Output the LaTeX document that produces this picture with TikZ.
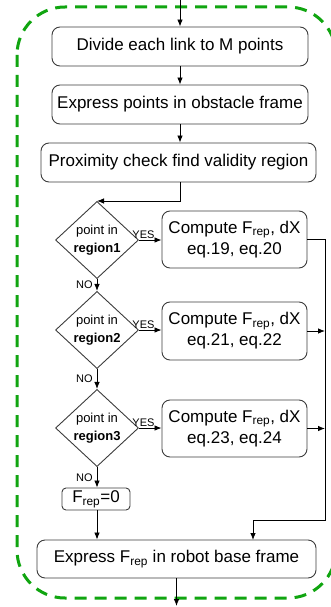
\documentclass[tikz,border=0pt]{standalone}
\usepackage{fontspec}
\setmainfont{Liberation Sans}
\usetikzlibrary{shapes.geometric, arrows.meta}
\definecolor{loopgreen}{RGB}{16,165,16}
\definecolor{boxline}{RGB}{60,60,60}
\tikzset{
  step box/.style={draw=boxline, line width=0.9pt, rounded corners=8pt, inner sep=1pt, align=center, font=\fontsize{17}{21}\selectfont},
  check/.style={draw=boxline, line width=0.9pt, shape=diamond, inner sep=0pt, minimum width=83pt, minimum height=76pt, align=center, font=\fontsize{13}{18}\selectfont},
  tag/.style={font=\fontsize{11}{12}\selectfont, inner sep=1pt},
  flow/.style={->, >={Latex[length=7pt, width=5.5pt]}, line width=0.8pt, black}
}
\begin{document}
\begin{tikzpicture}
  \begin{scope}[x=1pt, y=-1pt]
    \useasboundingbox (0,0) rectangle (331,607);
    \draw [loopgreen, line width=3pt, dash pattern=on 12pt off 8pt, rounded corners=48pt] (17,7) rectangle (336,598);
    \coordinate (In) at (180,0);
    \coordinate (Out) at (176.5,606);
    \node [step box, minimum width=256pt, minimum height=39pt] (S1) at (180,46.5) {Divide each link to M points};
    \node [step box, minimum width=256pt, minimum height=39pt] (S2) at (180,104.5) {Express points in obstacle frame};
    \node [step box, minimum width=275pt, minimum height=39pt] (S3) at (178.5,162.5) {Proximity check find validity region};
    \node [check] (D1) at (97,240) {point in\\\textbf{region1}};
    \node [check] (D2) at (97,330) {point in\\\textbf{region2}};
    \node [check] (D3) at (97,428) {point in\\\textbf{region3}};
    \node [step box, minimum width=145pt, minimum height=57pt] (C1) at (234.5,239.5) {Compute F\textsubscript{rep}, dX\\eq.19, eq.20};
    \node [step box, minimum width=145pt, minimum height=58pt] (C2) at (234.5,331) {Compute F\textsubscript{rep}, dX\\eq.21, eq.22};
    \node [step box, minimum width=145pt, minimum height=57pt] (C3) at (234.5,428.5) {Compute F\textsubscript{rep}, dX\\eq.23, eq.24};
    \node [step box, rounded corners=4pt, minimum width=68pt, minimum height=22pt] (F0) at (96,499) {F\textsubscript{rep}=0};
    \node [step box, minimum width=279pt, minimum height=38pt] (S4) at (176.5,559) {Express F\textsubscript{rep} in robot base frame};
    \coordinate (R) at (325,520);
    \coordinate (B) at (253,540);
    \draw [flow] (In) -- (S1);
    \draw [flow] (S1) -- (S2);
    \draw [flow] (S2) -- (S3.north -| S2);
    \draw [flow] (S3.south -| S2) |- (D1.north);
    \draw [flow] (D1.east) -- node [tag, above, pos=0.2] {YES} (C1.west |- D1.east);
    \draw [flow] (D2.east) -- node [tag, above, pos=0.2] {YES} (C2.west |- D2.east);
    \draw [flow] (D3.east) -- node [tag, above, pos=0.2] {YES} (C3.west |- D3.east);
    \draw [flow] (D1.south) -- node [tag, left, xshift=-3pt] {NO} (D2.north);
    \draw [flow] (D2.south) -- node [tag, left, xshift=-3pt] {NO} (D3.north);
    \draw [flow] (D3.south) -- node [tag, left, xshift=-3pt] {NO} (F0.north -| D3);
    \draw [flow] (C1.east) -| (R) -| (B);
    \draw [flow] (C2.east) -- (C2.east -| R);
    \draw [flow] (C3.east) -- (C3.east -| R);
    \draw [flow] (F0.south -| D3) -- (S4.north -| D3);
    \draw [flow] (S4.south) -- (Out);
  \end{scope}
\end{tikzpicture}
\end{document}
